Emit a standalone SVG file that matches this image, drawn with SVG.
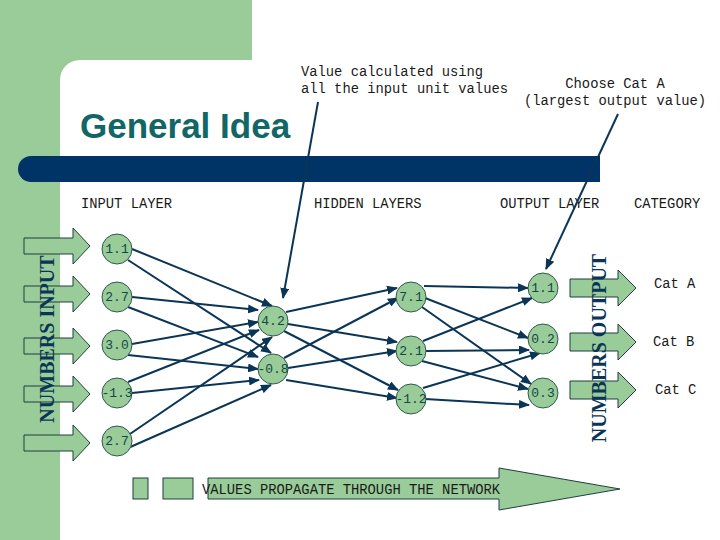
<svg xmlns="http://www.w3.org/2000/svg" width="720" height="540" viewBox="0 0 720 540">
<style>
.mono{font-family:"Liberation Mono","DejaVu Sans Mono",monospace;font-size:13.8px;fill:#1a1a1a}
.nt{font-family:"Liberation Mono","DejaVu Sans Mono",monospace;font-size:13px;fill:#124848;text-anchor:middle;dominant-baseline:central}
.node{fill:#99cc99;stroke:#2c5a4a;stroke-width:1}
.blk{fill:#99cc99;stroke:#1f3f3f;stroke-width:1}
.edge{stroke:#0b3556;stroke-width:2;fill:none;marker-end:url(#ah)}
.vt{font-family:"Liberation Serif","Times New Roman",serif;font-weight:bold;font-size:20px;fill:#0b3556;text-anchor:middle;dominant-baseline:central}
</style>
<defs>
<marker id="ah" markerUnits="userSpaceOnUse" markerWidth="11" markerHeight="9" refX="10" refY="4.5" orient="auto">
<path d="M0,0 L11,4.5 L0,9 z" fill="#0b3556"/>
</marker>
<polygon id="inArrow" points="24,-8 73,-8 73,-18 90,0 73,18 73,8 24,8"/>
<polygon id="outArrow" points="570,-9 618,-9 618,-18 636,0 618,18 618,9 570,9"/>
</defs>
<rect width="720" height="540" fill="#ffffff"/>
<path d="M0,0 H252 V60 H80 A20,20 0 0 0 60,80 V540 H0 Z" fill="#99cc99"/>
<path d="M31,156 H600 V182 H31 A13,13 0 0 1 31,156 Z" fill="#003366"/>
<text x="80" y="138" font-family="Liberation Sans,Arial,sans-serif" font-weight="bold" font-size="35" fill="#116666">General Idea</text>
<text class="mono" x="301" y="76">Value calculated using</text>
<text class="mono" x="301" y="93">all the input unit values</text>
<text class="mono" x="615" y="88" text-anchor="middle">Choose Cat A</text>
<text class="mono" x="615" y="105" text-anchor="middle">(largest output value)</text>
<text class="mono" x="81" y="208">INPUT LAYER</text>
<text class="mono" x="314" y="208">HIDDEN LAYERS</text>
<text class="mono" x="500" y="208">OUTPUT LAYER</text>
<text class="mono" x="634" y="208">CATEGORY</text>
<g id="input-arrows">
<use href="#inArrow" class="blk" transform="translate(0,246)"/>
<use href="#inArrow" class="blk" transform="translate(0,294)"/>
<use href="#inArrow" class="blk" transform="translate(0,346)"/>
<use href="#inArrow" class="blk" transform="translate(0,394)"/>
<use href="#inArrow" class="blk" transform="translate(0,443)"/>
</g>
<text class="vt" transform="translate(47,339) rotate(-90)">NUMBERS INPUT</text>
<g id="output-arrows">
<use href="#outArrow" class="blk" transform="translate(0,288)"/>
<use href="#outArrow" class="blk" transform="translate(0,342)"/>
<use href="#outArrow" class="blk" transform="translate(0,390)"/>
</g>
<text class="vt" transform="translate(599,348) rotate(-90)">NUMBERS OUTPUT</text>
<text class="mono" x="654" y="288">Cat A</text>
<text class="mono" x="653" y="346">Cat B</text>
<text class="mono" x="655" y="394">Cat C</text>
<g id="connectors">
<line class="edge" x1="318" y1="102" x2="283" y2="298"/>
<line class="edge" x1="618" y1="114" x2="546" y2="269"/>
<line class="edge" x1="132" y1="249" x2="272" y2="306"/>
<line class="edge" x1="128" y1="260" x2="271" y2="353"/>
<line class="edge" x1="132" y1="297" x2="258" y2="310"/>
<line class="edge" x1="128" y1="307" x2="258" y2="357"/>
<line class="edge" x1="132" y1="344" x2="258" y2="322"/>
<line class="edge" x1="128" y1="355" x2="258" y2="369"/>
<line class="edge" x1="128" y1="382" x2="259" y2="330"/>
<line class="edge" x1="132" y1="393" x2="259" y2="380"/>
<line class="edge" x1="127" y1="436" x2="272" y2="337"/>
<line class="edge" x1="128" y1="448" x2="271" y2="385"/>
<line class="edge" x1="286" y1="312" x2="397" y2="288"/>
<line class="edge" x1="288" y1="324" x2="397" y2="342"/>
<line class="edge" x1="284" y1="331" x2="398" y2="390"/>
<line class="edge" x1="284" y1="358" x2="398" y2="298"/>
<line class="edge" x1="288" y1="368" x2="397" y2="351"/>
<line class="edge" x1="286" y1="380" x2="397" y2="398"/>
<line class="edge" x1="424" y1="286" x2="528" y2="288"/>
<line class="edge" x1="425" y1="298" x2="528" y2="338"/>
<line class="edge" x1="422" y1="307" x2="531" y2="384"/>
<line class="edge" x1="423" y1="341" x2="532" y2="298"/>
<line class="edge" x1="425" y1="351" x2="529" y2="350"/>
<line class="edge" x1="422" y1="361" x2="528" y2="389"/>
<line class="edge" x1="423" y1="388" x2="540" y2="353"/>
<line class="edge" x1="425" y1="399" x2="529" y2="405"/>
</g>
<g id="n-in1"><circle class="node" cx="117" cy="249" r="15"/><text class="nt" x="117" y="249">1.1</text></g>
<g id="n-in2"><circle class="node" cx="117" cy="297" r="15"/><text class="nt" x="117" y="297">2.7</text></g>
<g id="n-in3"><circle class="node" cx="117" cy="345" r="15"/><text class="nt" x="117" y="345">3.0</text></g>
<g id="n-in4"><circle class="node" cx="117" cy="393" r="15"/><text class="nt" x="117" y="393">-1.3</text></g>
<g id="n-in5"><circle class="node" cx="117" cy="441" r="15"/><text class="nt" x="117" y="441">2.7</text></g>
<g id="n-h1a"><circle class="node" cx="273" cy="321" r="15"/><text class="nt" x="273" y="321">4.2</text></g>
<g id="n-h1b"><circle class="node" cx="273" cy="369" r="15"/><text class="nt" x="273" y="369">-0.8</text></g>
<g id="n-h2a"><circle class="node" cx="411" cy="297" r="15"/><text class="nt" x="411" y="297">7.1</text></g>
<g id="n-h2b"><circle class="node" cx="411" cy="351" r="15"/><text class="nt" x="411" y="351">2.1</text></g>
<g id="n-h2c"><circle class="node" cx="411" cy="399" r="15"/><text class="nt" x="411" y="399">-1.2</text></g>
<g id="n-o1"><circle class="node" cx="543" cy="288" r="15"/><text class="nt" x="543" y="288">1.1</text></g>
<g id="n-o2"><circle class="node" cx="543" cy="339" r="15"/><text class="nt" x="543" y="339">0.2</text></g>
<g id="n-o3"><circle class="node" cx="543" cy="393" r="15"/><text class="nt" x="543" y="393">0.3</text></g>
<g id="propagate">
<rect class="blk" x="133" y="478" width="15" height="21"/>
<rect class="blk" x="163" y="478" width="30" height="21"/>
<polygon class="blk" points="208,478 499,478 499,468 620,489 499,510 499,499 208,499"/>
<text class="mono" x="202" y="494">VALUES PROPAGATE THROUGH THE NETWORK</text>
</g>
</svg>
